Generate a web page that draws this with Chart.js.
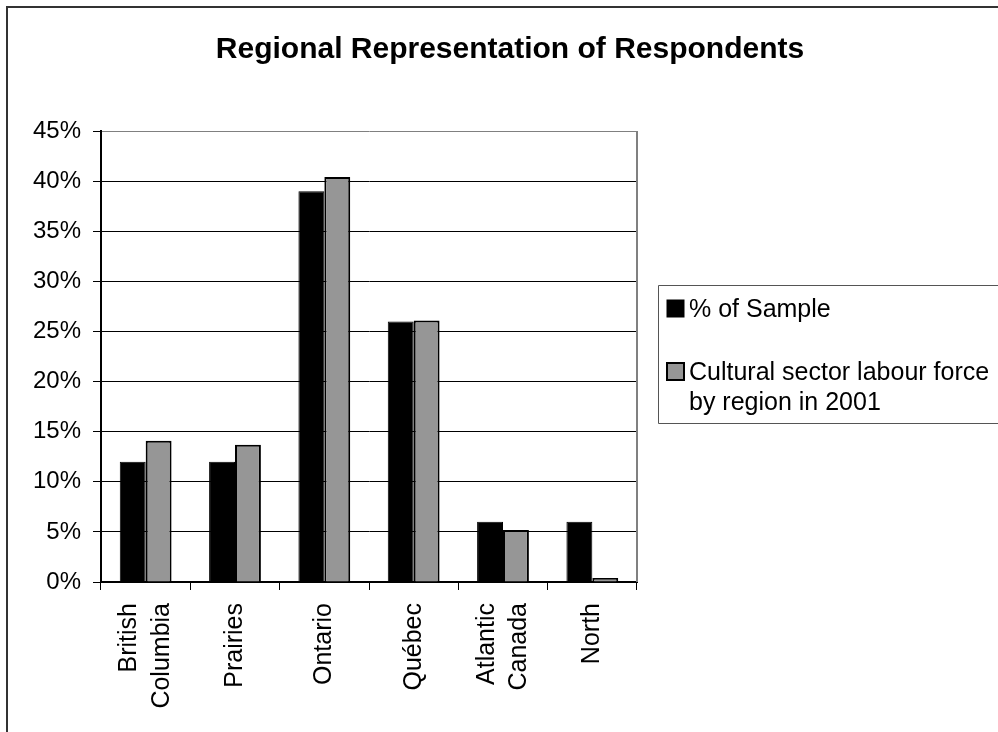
<!DOCTYPE html>
<html>
<head>
<meta charset="utf-8">
<title>Regional Representation of Respondents</title>
<script src="https://cdn.jsdelivr.net/npm/chart.js@4"></script>
<style>
  body { margin: 0; background: #fff; overflow: hidden; }
  #regionChart { display: block; }
</style>
</head>
<body>
<canvas id="regionChart" width="998" height="732"></canvas>
<script>
const chartTitle = 'Regional Representation of Respondents';
const regions = [['British', 'Columbia'], 'Prairies', 'Ontario', 'Québec', ['Atlantic', 'Canada'], 'North'];
const sampleShare = [12, 12, 39, 26, 6, 6];
const labourForceShare = [14.1, 13.7, 40.4, 26.1, 5.2, 0.4];
const seriesNames = ['% of Sample', 'Cultural sector labour force by region in 2001'];
const percentTicks = [0, 5, 10, 15, 20, 25, 30, 35, 40, 45];

Chart.defaults.font.family = '"Liberation Sans", Arial, sans-serif';
Chart.defaults.color = '#000';

// wrap a legend label into lines no wider than maxWidth
function wrapText(ctx, text, maxWidth) {
    const words = text.split(' ');
    const lines = [];
    let line = '';
    words.forEach(word => {
        const test = line ? line + ' ' + word : word;
        if (line && ctx.measureText(test).width > maxWidth) {
            lines.push(line);
            line = word;
        } else {
            line = test;
        }
    });
    if (line) lines.push(line);
    return lines;
}

// rotated two-line category labels: centre the block on the tick
const centerRotatedLabels = {
    id: 'centerRotatedLabels',
    beforeDraw(chart) {
        const xScale = chart.scales.x;
        xScale.getLabelItems().forEach(item => {
            if (Array.isArray(item.label) && !item._centered) {
                item.textOffset -= (item.label.length - 1) * item.font.lineHeight / 2;
                item._centered = true;
            }
        });
    }
};

// outer frame, title, plot edge and the boxed legend on the right
const frameAndLegend = {
    id: 'frameAndLegend',
    afterDraw(chart) {
        const { ctx, chartArea } = chart;
        ctx.save();

        ctx.strokeStyle = '#333';
        ctx.lineWidth = 2;
        ctx.beginPath();
        ctx.moveTo(7, 740);
        ctx.lineTo(7, 7);
        ctx.lineTo(1000, 7);
        ctx.stroke();

        ctx.strokeStyle = '#808080';
        ctx.beginPath();
        ctx.moveTo(chartArea.right, chartArea.top);
        ctx.lineTo(chartArea.right, chartArea.bottom);
        ctx.stroke();

        ctx.fillStyle = '#000';
        ctx.textAlign = 'center';
        ctx.textBaseline = 'alphabetic';
        ctx.font = 'bold 30px "Liberation Sans", Arial, sans-serif';
        ctx.fillText(chartTitle, 510, 58);

        // legend box, runs off the right edge
        ctx.strokeStyle = '#555';
        ctx.lineWidth = 1;
        ctx.beginPath();
        ctx.moveTo(1000, 285.5);
        ctx.lineTo(658.5, 285.5);
        ctx.lineTo(658.5, 423.5);
        ctx.lineTo(1000, 423.5);
        ctx.stroke();

        ctx.font = '25px "Liberation Sans", Arial, sans-serif';
        ctx.textAlign = 'left';
        let baseline = 317;
        chart.data.datasets.forEach(ds => {
            const lines = wrapText(ctx, ds.label, 305);
            ctx.fillStyle = ds.backgroundColor;
            ctx.fillRect(667, baseline - 17, 17, 17);
            ctx.strokeStyle = ds.borderColor;
            ctx.lineWidth = ds.borderWidth;
            ctx.strokeRect(667, baseline - 17, 17, 17);
            ctx.fillStyle = '#000';
            lines.forEach((l, i) => ctx.fillText(l, 689, baseline + i * 30));
            baseline += 63;
        });

        ctx.restore();
    }
};

const ctx = document.getElementById('regionChart').getContext('2d');
const regionChart = new Chart(ctx, {
    type: 'bar',
    data: {
        labels: regions,
        datasets: [{
            label: seriesNames[0],
            data: sampleShare,
            backgroundColor: '#000000',
            borderColor: '#000000',
            borderWidth: 1,
        }, {
            label: seriesNames[1],
            data: labourForceShare,
            backgroundColor: '#969696',
            borderColor: '#000000',
            borderWidth: 2,
        }]
    },
    options: {
        responsive: false,
        animation: false,
        categoryPercentage: 0.58,
        barPercentage: 1.0,
        layout: { padding: { top: 131, right: 361, left: 0, bottom: 0 } },
        plugins: {
            legend: { display: false },
            title: { display: false },
            tooltip: { enabled: false }
        },
        scales: {
            x: {
                grid: { offset: true, drawOnChartArea: false, tickLength: 8, color: '#000' },
                border: { color: '#000', width: 2 },
                ticks: {
                    autoSkip: false,
                    minRotation: 90,
                    maxRotation: 90,
                    padding: 13,
                    font: { size: 25, lineHeight: 1.3 }
                },
                afterFit(scale) { scale.height = 150; }
            },
            y: {
                min: 0,
                max: 45,
                grid: {
                    color: c => (c.tick && c.tick.value === 45) ? '#808080' : '#000',
                    tickColor: '#000',
                    tickLength: 8
                },
                border: { color: '#000', width: 2 },
                ticks: {
                    padding: 12,
                    font: { size: 24 },
                    callback: v => v + '%'
                },
                afterBuildTicks(scale) { scale.ticks = percentTicks.map(v => ({ value: v })); },
                afterFit(scale) { scale.width = 101; }
            }
        }
    },
    plugins: [centerRotatedLabels, frameAndLegend]
});
</script>
</body>
</html>
